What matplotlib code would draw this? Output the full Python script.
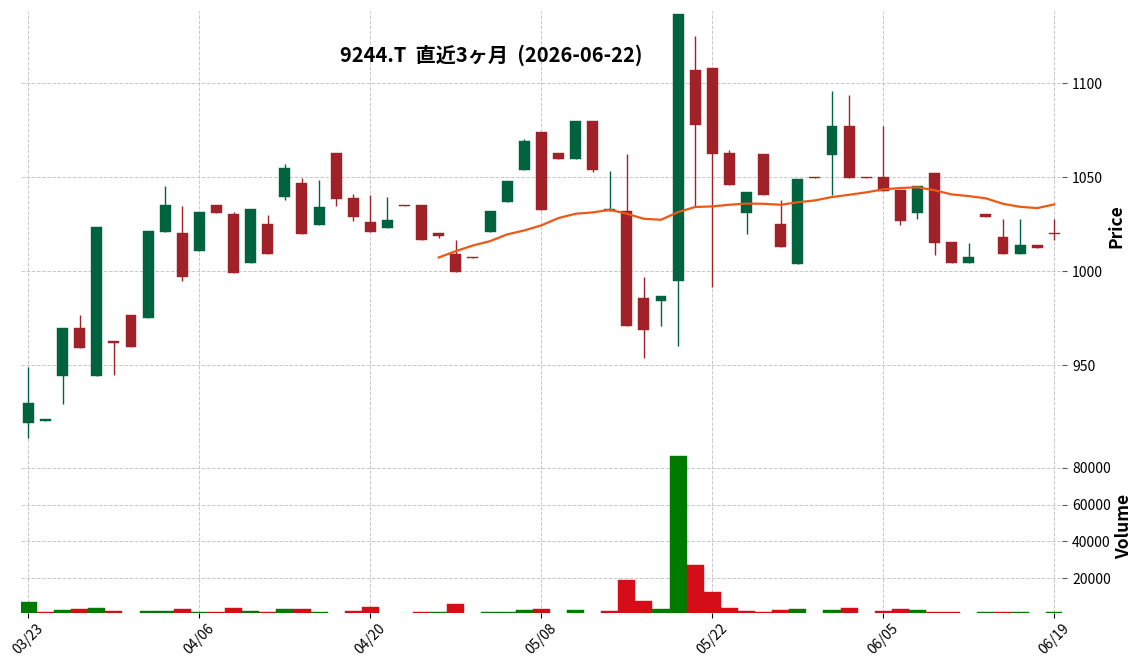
import numpy as np
import matplotlib
matplotlib.use("Agg")
import matplotlib.pyplot as plt
from matplotlib.patches import Rectangle

plt.rcParams['font.family'] = ['Noto Sans CJK JP', 'DejaVu Sans']

# trading days shown on the chart
dates = ["03/23", "03/24", "03/25", "03/26", "03/27", "03/30", "03/31", "04/01", "04/02", "04/03",
         "04/06", "04/07", "04/08", "04/09", "04/10", "04/13", "04/14", "04/15", "04/16", "04/17",
         "04/20", "04/21", "04/22", "04/23", "04/24", "04/27", "04/28", "04/30", "05/01", "05/07",
         "05/08", "05/11", "05/12", "05/13", "05/14", "05/15", "05/18", "05/19", "05/20", "05/21",
         "05/22", "05/25", "05/26", "05/27", "05/28", "05/29", "06/01", "06/02", "06/03", "06/04",
         "06/05", "06/08", "06/09", "06/10", "06/11", "06/12", "06/15", "06/16", "06/17", "06/18",
         "06/19"]

opens = [918.9, 920.0, 944.3, 970.0, 944.3, 963.0, 976.9, 974.9, 1020.8, 1020.1,
         1010.7, 1035.1, 1030.4, 1004.6, 1024.9, 1039.5, 1046.8, 1024.4, 1062.8, 1038.8,
         1026.0, 1022.8, 1035.1, 1035.1, 1020.1, 1008.9, 1007.5, 1020.8, 1036.8, 1053.9,
         1074.0, 1062.8, 1059.8, 1079.9, 1032.0, 1031.9, 985.9, 984.0, 994.7, 1107.1,
         1108.2, 1062.8, 1031.0, 1062.3, 1024.9, 1003.7, 1050.2, 1061.9, 1077.2, 1050.2,
         1050.0, 1043.1, 1031.0, 1052.1, 1015.3, 1004.6, 1030.2, 1018.0, 1009.4, 1014.1,
         1020.1]
highs = [949.1, 921.0, 970.0, 976.7, 1023.3, 963.0, 976.9, 1021.2, 1045.2, 1034.9,
         1031.3, 1035.1, 1031.3, 1032.9, 1030.1, 1056.9, 1049.8, 1048.8, 1062.8, 1040.9,
         1040.7, 1039.7, 1035.1, 1035.1, 1020.1, 1016.7, 1007.5, 1031.9, 1047.9, 1070.3,
         1074.0, 1062.8, 1079.9, 1079.9, 1053.2, 1062.6, 997.0, 987.0, 1137.0, 1125.3,
         1108.2, 1064.6, 1042.0, 1062.3, 1038.1, 1048.9, 1050.2, 1095.9, 1093.6, 1050.2,
         1077.2, 1043.1, 1045.2, 1052.1, 1015.3, 1015.1, 1030.2, 1027.9, 1027.9, 1014.1,
         1027.9]
lows = [911.0, 920.0, 929.5, 958.9, 944.3, 944.7, 959.8, 974.9, 1020.8, 994.7,
        1010.7, 1031.0, 999.0, 1004.6, 1009.4, 1038.1, 1019.6, 1024.4, 1034.9, 1026.7,
        1020.8, 1022.8, 1034.6, 1016.5, 1017.8, 999.5, 1007.0, 1020.8, 1036.8, 1053.9,
        1032.4, 1059.8, 1059.8, 1052.8, 1032.0, 970.6, 953.7, 970.8, 960.1, 1034.2,
        991.8, 1045.9, 1019.9, 1040.6, 1012.8, 1003.7, 1049.8, 1040.7, 1049.5, 1049.8,
        1042.5, 1024.7, 1027.9, 1008.7, 1004.6, 1004.6, 1028.8, 1009.4, 1009.4, 1012.6,
        1016.7]
closes = [929.9, 921.0, 970.0, 958.9, 1023.3, 961.6, 959.8, 1021.2, 1035.1, 996.8,
          1031.3, 1031.0, 999.3, 1032.9, 1009.4, 1054.8, 1019.6, 1034.0, 1038.4, 1028.8,
          1020.8, 1027.0, 1034.6, 1016.5, 1018.7, 999.5, 1007.0, 1031.9, 1047.9, 1069.2,
          1032.4, 1059.8, 1079.9, 1053.9, 1033.0, 970.6, 968.5, 987.0, 1137.0, 1077.9,
          1062.3, 1045.9, 1042.0, 1040.6, 1012.8, 1048.9, 1049.8, 1077.2, 1049.5, 1049.8,
          1042.5, 1026.7, 1045.2, 1014.9, 1004.6, 1007.8, 1028.8, 1009.4, 1014.2, 1012.6,
          1019.6]
volumes = [7100, 1600, 2700, 3300, 3800, 2200, 0, 2200, 2200, 3300,
           1600, 1600, 3800, 2200, 1600, 3300, 3300, 1600, 0, 2200,
           4400, 0, 0, 1600, 1600, 6000, 0, 1600, 1600, 2700,
           3300, 0, 2700, 0, 2200, 19100, 7600, 3300, 86200, 27300,
           12500, 3800, 2200, 1600, 2700, 3300, 0, 2700, 3800, 0,
           2200, 3300, 2700, 1600, 1600, 0, 1600, 1600, 1600, 0,
           1600]
# 25-day moving average as drawn (starts at the 25th session)
ma25 = [np.nan] * 24 + [1007.3, 1010.7, 1013.7, 1016.0, 1019.6, 1021.7, 1024.4, 1028.3, 1030.6, 1031.3,
                        1032.7, 1030.6, 1027.9, 1027.4, 1031.5, 1034.2, 1034.5, 1035.4, 1036.0, 1035.9,
                        1035.4, 1036.7, 1037.7, 1039.5, 1040.7, 1042.0, 1043.6, 1044.3, 1044.7, 1043.1,
                        1040.9, 1040.0, 1038.8, 1035.9, 1034.3, 1033.6, 1035.6]

UP, DOWN = "#006340", "#a02128"
VUP, VDOWN = "#007a00", "#d50d18"
GRID = dict(color="#c8c8c8", linestyle="--", linewidth=0.7)

fig = plt.figure(figsize=(11.44, 6.70), dpi=100)
ax = fig.add_axes([0.0184, 0.3425, 0.9096, 0.6411])
axv = fig.add_axes([0.0184, 0.0855, 0.9096, 0.257], sharex=ax)

x = np.arange(len(dates))
for i in x:
    o, h, l, c = opens[i], highs[i], lows[i], closes[i]
    col = UP if c >= o else DOWN
    ax.vlines(i, l, h, color=col, linewidth=1.0, zorder=2)
    ax.add_patch(Rectangle((i - 0.32, min(o, c)), 0.64, max(abs(c - o), 0.3),
                           facecolor=col, edgecolor=col, linewidth=0.3, zorder=3))

ax.plot(x, ma25, color="#ef5714", linewidth=1.6, zorder=4)

vcols = [VUP] + [VUP if closes[i] >= closes[i - 1] else VDOWN for i in x[1:]]
axv.bar(x, volumes, width=1.0, color=vcols, edgecolor=vcols, linewidth=0.3)

for a in (ax, axv):
    for s in a.spines.values():
        s.set_visible(False)
    a.grid(True, **GRID)
    a.set_axisbelow(True)
    a.yaxis.tick_right()
    a.yaxis.set_label_position("right")
    a.tick_params(axis="y", length=3.5, width=0.8, labelsize=10, pad=4, color="#555555")

ax.set_xlim(-0.43, 60.43)
ax.set_ylim(909.8, 1138.6)
ax.set_yticks([950, 1000, 1050, 1100])
ax.tick_params(axis="x", bottom=False, labelbottom=False)
ax.set_ylabel("Price", fontsize=12.5, fontweight="bold", labelpad=3)

axv.set_ylim(1270, 94800)
axv.set_yticks([20000, 40000, 60000, 80000])
axv.set_xticks(x[::10])
axv.set_xticklabels([dates[i] for i in x[::10]], rotation=45, ha="center", fontsize=10)
axv.tick_params(axis="x", length=3.5, width=0.8, pad=3)
axv.set_ylabel("Volume", fontsize=12.5, fontweight="bold", labelpad=3)

fig.text(0.429, 0.918, "9244.T  直近3ヶ月  (2026-06-22)", ha="center", va="center",
         fontsize=14.5, fontweight="bold")

fig.savefig("out.png", dpi=100)
